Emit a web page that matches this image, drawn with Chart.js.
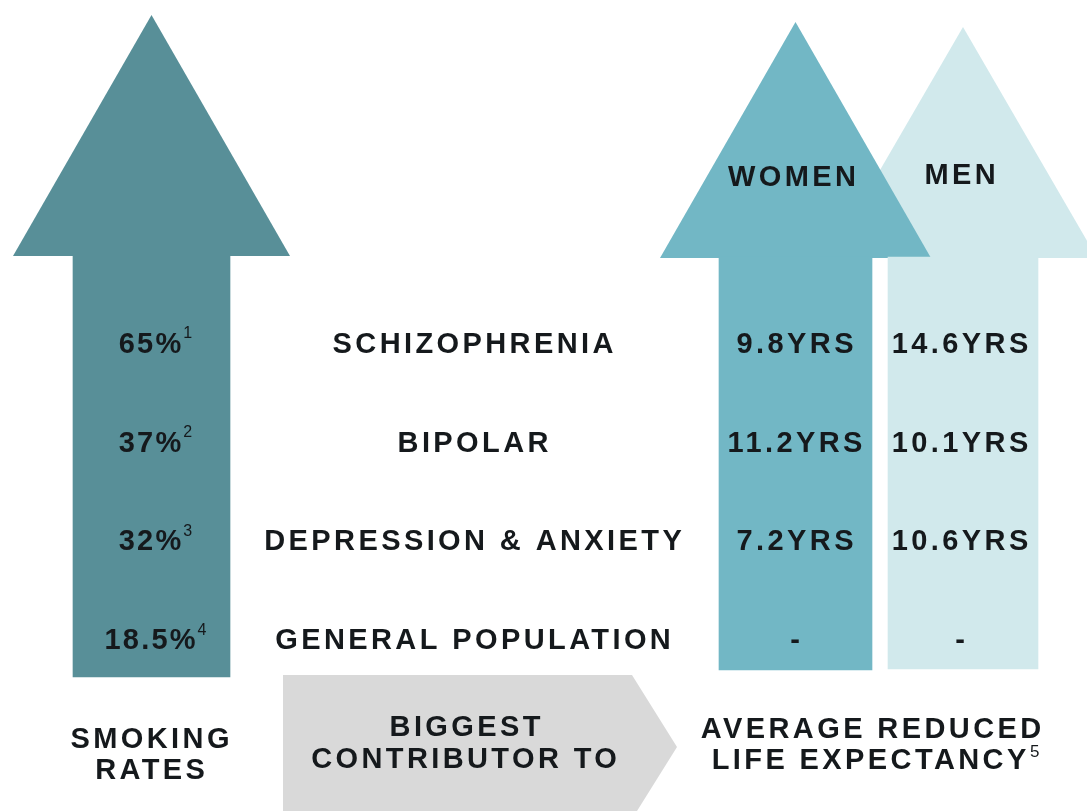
<!DOCTYPE html>
<html>
<head>
<meta charset="utf-8">
<script src="https://cdn.jsdelivr.net/npm/chart.js@4/dist/chart.umd.min.js"></script>
<style>
  html, body { margin: 0; padding: 0; background: #fff; }
  #wrap { width: 1087px; height: 811px; }
</style>
</head>
<body>
<div id="wrap"><canvas id="info" width="1087" height="811"></canvas></div>
<script>
// data
const conditions = ["SCHIZOPHRENIA", "BIPOLAR", "DEPRESSION & ANXIETY", "GENERAL POPULATION"];
const smokingRates = [65, 37, 32, 18.5];
const smokingRefs = ["1", "2", "3", "4"];
const womenYears = [9.8, 11.2, 7.2, null];
const menYears = [14.6, 10.1, 10.6, null];
const columnTitles = ["WOMEN", "MEN"];
const footerSmoking = ["SMOKING", "RATES"];
const footerMiddle = ["BIGGEST", "CONTRIBUTOR TO"];
const footerLife = ["AVERAGE REDUCED", "LIFE EXPECTANCY"];
const footerRef = "5";

// layout, in canvas units (x: 0..1087, y: 0..811 top-down)
const arrows = {
  smoking: { x: 151.5, tip: 15, base: 256, half: 138.5, bottom: 677, shaft: 157, color: "#588f98" },
  women:   { x: 795.5, tip: 22, base: 258, half: 135.5, bottom: 670, shaft: 153, color: "#72b7c5" },
  men:     { x: 963,   tip: 27, base: 258, half: 134,   bottom: 669, shaft: 150, color: "#d1e9ec" }
};
const rowY0 = 345, rowStep = 98.7;
const cols = { rate: 150, cond: 473, women: 795, men: 960 };
const chevron = { left: 283, right: 632, point: 677, top: 675, mid: 747, fill: "#d9d9d9" };
const ink = "#15191c";
const FONT = "'Liberation Sans', Arial, sans-serif";
const SIZE = 29, SPACING = 3.4;

const rowY = i => rowY0 + i * rowStep;

function shaftData(a) {
  return [{ x: a.x, y: [a.base - 1, a.bottom] }];
}

const shapes = {
  id: "shapes",
  beforeDatasetsDraw(chart) {
    const { ctx, scales: { x, y } } = chart;
    ctx.save();
    // grey chevron
    ctx.fillStyle = chevron.fill;
    ctx.beginPath();
    ctx.moveTo(x.getPixelForValue(chevron.left), y.getPixelForValue(chevron.top));
    ctx.lineTo(x.getPixelForValue(chevron.right), y.getPixelForValue(chevron.top));
    ctx.lineTo(x.getPixelForValue(chevron.point), y.getPixelForValue(chevron.mid));
    ctx.lineTo(x.getPixelForValue(chevron.right), y.getPixelForValue(2 * chevron.mid - chevron.top));
    ctx.lineTo(x.getPixelForValue(chevron.left), y.getPixelForValue(2 * chevron.mid - chevron.top));
    ctx.closePath();
    ctx.fill();
    // arrow heads (men behind women)
    ["smoking", "men", "women"].forEach(k => {
      const a = arrows[k];
      ctx.fillStyle = a.color;
      ctx.beginPath();
      ctx.moveTo(x.getPixelForValue(a.x), y.getPixelForValue(a.tip));
      ctx.lineTo(x.getPixelForValue(a.x + a.half), y.getPixelForValue(a.base));
      ctx.lineTo(x.getPixelForValue(a.x - a.half), y.getPixelForValue(a.base));
      ctx.closePath();
      ctx.fill();
    });
    ctx.restore();
  }
};

function spaced(ctx, text, px, py, size, spacing, weight) {
  ctx.font = (weight || "bold") + " " + size + "px " + FONT;
  ctx.letterSpacing = spacing + "px";
  ctx.textAlign = "center";
  ctx.textBaseline = "middle";
  ctx.fillText(text, px + spacing / 2, py);
  return ctx.measureText(text).width;
}

function sup(ctx, text, px, py, size) {
  ctx.font = size + "px " + FONT;
  ctx.letterSpacing = "0px";
  ctx.textAlign = "left";
  ctx.textBaseline = "middle";
  ctx.fillText(text, px, py);
}

const labels = {
  id: "labels",
  afterDatasetsDraw(chart) {
    const { ctx, scales: { x, y } } = chart;
    ctx.save();
    ctx.fillStyle = ink;

    // column titles
    spaced(ctx, columnTitles[0], x.getPixelForValue(792), y.getPixelForValue(178), SIZE, SPACING);
    spaced(ctx, columnTitles[1], x.getPixelForValue(960), y.getPixelForValue(176), SIZE, SPACING);

    conditions.forEach((c, i) => {
      const py = y.getPixelForValue(rowY(i));
      // smoking rate with reference mark
      const rate = smokingRates[i] + "%";
      const w = spaced(ctx, rate, x.getPixelForValue(cols.rate), py, SIZE, 2.2);
      sup(ctx, smokingRefs[i], x.getPixelForValue(cols.rate) + w / 2 + 1, py - 11, 16);
      // condition
      spaced(ctx, c, x.getPixelForValue(cols.cond), py, SIZE, SPACING);
      // years
      const wv = womenYears[i] == null ? "-" : womenYears[i].toFixed(1) + "YRS";
      const mv = menYears[i] == null ? "-" : menYears[i].toFixed(1) + "YRS";
      spaced(ctx, wv, x.getPixelForValue(cols.women), py, SIZE, SPACING);
      spaced(ctx, mv, x.getPixelForValue(cols.men), py, SIZE, SPACING);
    });

    // footer
    spaced(ctx, footerSmoking[0], x.getPixelForValue(150), y.getPixelForValue(740), SIZE, SPACING);
    spaced(ctx, footerSmoking[1], x.getPixelForValue(150), y.getPixelForValue(771), SIZE, SPACING);
    spaced(ctx, footerMiddle[0], x.getPixelForValue(465), y.getPixelForValue(728), SIZE, SPACING);
    spaced(ctx, footerMiddle[1], x.getPixelForValue(464), y.getPixelForValue(760), SIZE, SPACING);
    spaced(ctx, footerLife[0], x.getPixelForValue(871), y.getPixelForValue(730), SIZE, SPACING);
    const lw = spaced(ctx, footerLife[1], x.getPixelForValue(869), y.getPixelForValue(761), SIZE, SPACING);
    sup(ctx, footerRef, x.getPixelForValue(869) + lw / 2 + 2, y.getPixelForValue(752), 17);
    ctx.restore();
  }
};

const barDefaults = { grouped: false, borderWidth: 0, borderSkipped: false };

new Chart(document.getElementById("info"), {
  type: "bar",
  data: {
    datasets: [
      Object.assign({ label: "Women", data: shaftData(arrows.women), barThickness: arrows.women.shaft,
        backgroundColor: arrows.women.color, order: 0 }, barDefaults),
      Object.assign({ label: "Men", data: shaftData(arrows.men), barThickness: arrows.men.shaft,
        backgroundColor: arrows.men.color, order: 1 }, barDefaults),
      Object.assign({ label: "Smoking rates", data: shaftData(arrows.smoking), barThickness: arrows.smoking.shaft,
        backgroundColor: arrows.smoking.color, order: 2 }, barDefaults)
    ]
  },
  options: {
    responsive: false,
    animation: false,
    layout: { padding: 0 },
    plugins: { legend: { display: false }, tooltip: { enabled: false } },
    scales: {
      x: { type: "linear", min: 0, max: 1087, offset: false, display: false },
      y: { type: "linear", min: 0, max: 811, reverse: true, display: false }
    }
  },
  plugins: [shapes, labels]
});
</script>
</body>
</html>
